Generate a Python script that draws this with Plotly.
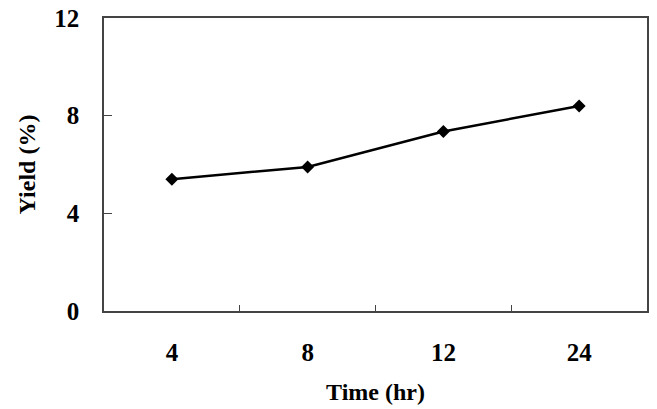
import plotly.graph_objects as go

time_labels = ["4", "8", "12", "24"]
yield_pct = [5.4, 5.9, 7.35, 8.4]
y_ticks = [0, 4, 8, 12]

font_family = "Liberation Serif, Times New Roman, serif"

fig = go.Figure()
fig.add_trace(go.Scatter(
    x=time_labels, y=yield_pct, mode="lines+markers",
    line=dict(color="black", width=2.5),
    marker=dict(symbol="diamond", size=10, color="black"),
    showlegend=False,
))

fig.update_layout(
    width=657, height=409,
    margin=dict(l=104, r=10, t=18, b=98),
    paper_bgcolor="white", plot_bgcolor="white",
    font=dict(family=font_family, color="black"),
)
fig.update_xaxes(
    type="category", tickson="boundaries", ticks="inside", ticklen=6,
    tickcolor="#444", tickwidth=1.2,
    showline=True, linecolor="#444", linewidth=1.5, mirror=True,
    showgrid=False, range=[-0.5, 3.5], automargin=False,
    tickfont=dict(size=25, family=font_family, weight="bold"),
    ticklabelstandoff=18,
    title=dict(text="<b>Time (hr)</b>", font=dict(size=24, family=font_family), standoff=18),
)
fig.update_yaxes(
    range=[0, 12], tickvals=y_ticks, ticks="inside", ticklen=8,
    tickcolor="#444", tickwidth=1.2,
    showline=True, linecolor="#444", linewidth=1.5, mirror=True,
    showgrid=False, zeroline=False, automargin=False,
    tickfont=dict(size=25, family=font_family, weight="bold"),
    ticklabelstandoff=18,
    title=dict(text="<b>Yield (%)</b>", font=dict(size=24, family=font_family), standoff=12),
)

fig.write_html("out.html")
